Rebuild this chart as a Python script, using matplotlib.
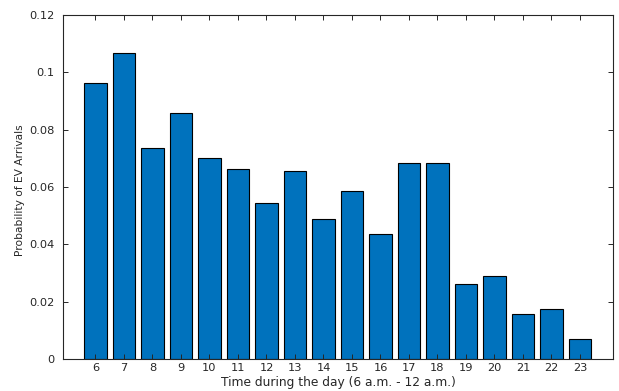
import matplotlib
matplotlib.use("Agg")
import matplotlib.pyplot as plt
from matplotlib.ticker import FuncFormatter

hours = list(range(6, 24))
probs = [0.0962, 0.1068, 0.0735, 0.0857, 0.0700, 0.0664, 0.0543, 0.0656, 0.0489,
         0.0586, 0.0437, 0.0683, 0.0683, 0.0263, 0.0288, 0.0158, 0.0176, 0.0070]
yticks = [0, 0.02, 0.04, 0.06, 0.08, 0.10, 0.12]

plt.rcParams['font.family'] = ['DejaVu Sans']
fig = plt.figure(figsize=(6.19, 3.91), dpi=100)
ax = fig.add_axes([63/619, 32/391, 550/619, 344/391])
ax.bar(hours, probs, width=0.8, color='#0072BD', edgecolor='black', linewidth=0.8)
ax.set_xlim(4.86, 24.16)
ax.set_ylim(0, 0.12)
ax.set_xticks(hours)
ax.set_yticks(yticks)
ax.yaxis.set_major_formatter(FuncFormatter(lambda v, p: f"{v:g}"))
ax.tick_params(direction='in', top=True, right=True, length=3.5, width=0.7,
               colors='#262626', labelsize=8.2)
ax.tick_params(axis='y', pad=6)
ax.tick_params(axis='x', pad=3)
for s in ax.spines.values():
    s.set_color('#262626')
    s.set_linewidth(0.8)
ax.set_xlabel('Time during the day (6 a.m. - 12 a.m.)', fontsize=8.8, color='#262626', va='baseline')
ax.xaxis.set_label_coords(0.5, -0.0799)
ax.set_ylabel('Probability of EV Arrivals', fontsize=7.7, color='#262626')
ax.yaxis.set_label_coords(-0.0691, 0.491)
fig.savefig('out.png', dpi=100)
